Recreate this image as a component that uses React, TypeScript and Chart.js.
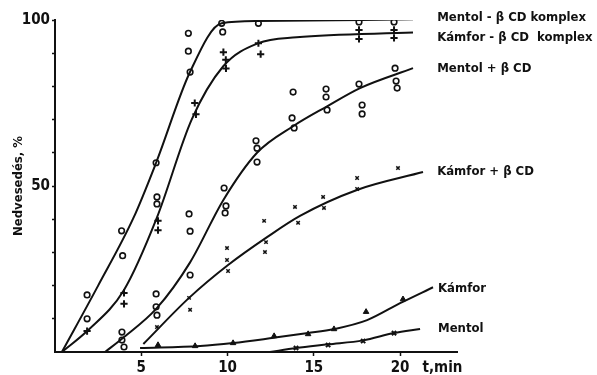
import React, { useEffect, useRef } from 'react';
import { Chart, registerables } from 'chart.js';

Chart.register(...registerables);

const FONT = "'DejaVu Sans Condensed', 'Liberation Sans Narrow', 'DejaVu Sans', sans-serif";
const INK = '#111111';

// ---- axis ----
const xMin = 0;
const xMax = 23.3;
const yMin = 0;
const yMax = 100;
const xTickValues = [5, 10, 15, 20];
const yTickValues = [10, 20, 30, 40, 50, 60, 70, 80, 90, 100];
const yLabelledTicks = [50, 100];
const yTitle = 'Nedvesedés, %';
const xUnit = 't,min';

// ---- series names ----
const seriesNames = [
  'Mentol - β CD komplex',
  'Kámfor - β CD  komplex',
  'Mentol + β CD',
  'Kámfor + β CD',
  'Kámfor',
  'Mentol',
];
const labelX = [22.15, 22.15, 22.15, 22.15, 22.2, 22.2];
const labelY = [100.6, 94.7, 85.5, 54.2, 19.1, 7.1];

// ---- fitted curves ----
const curve1X = [0.4, 2.5, 4.54, 5.86, 7.83, 9.66, 11.77, 20.75];
const curve1Y = [0, 20, 40.3, 57, 84.4, 99, 99.7, 100.2];
const curve2X = [0.4, 1.86, 4.0, 5.9, 7.92, 9.74, 11.77, 14.0, 20.75];
const curve2Y = [0, 6.3, 18.7, 40.4, 70, 86, 93, 94.8, 96.2];
const curve3X = [2.9, 3.88, 5.9, 7.83, 9.76, 11.71, 13.8, 15.77, 17.68, 20.75];
const curve3Y = [0, 4, 13.2, 27, 45.8, 60, 68, 74, 79.5, 85.5];
const curve4X = [5.12, 7.77, 10.03, 12.29, 14.2, 17.5, 21.33];
const curve4Y = [2.4, 16.3, 26.2, 34.6, 41, 48.8, 54.2];
const curve5X = [4.93, 8.41, 10.32, 12.7, 14.67, 16.17, 18.09, 20.0, 21.91];
const curve5Y = [1.2, 1.8, 2.7, 4.3, 5.7, 6.9, 9.6, 14.7, 19.5];
const curve6X = [12.46, 13.97, 15.83, 17.86, 19.65, 21.16];
const curve6Y = [0, 1.2, 2.3, 3.5, 5.7, 6.9];

// ---- measured points ----
const mentolKomplexX = [1.86, 1.86, 3.86, 3.92, 5.86, 5.91, 5.91, 7.73, 7.73, 7.83, 9.66, 9.72, 11.79, 17.62, 19.65];
const mentolKomplexY = [17.2, 10, 36.5, 29, 57, 46.7, 44.6, 96, 90.6, 84.3, 99, 96.4, 99, 99.4, 99.4];
const kamforKomplexX = [1.86, 4.0, 4.0, 5.97, 5.97, 8.1, 8.17, 9.76, 9.9, 9.91, 11.79, 11.92, 17.62, 17.62, 19.65, 19.65];
const kamforKomplexY = [6.3, 17.8, 14.5, 39.5, 36.7, 75, 71.6, 90.3, 88, 85.4, 93, 89.7, 97, 94.3, 97, 94.6];
const mentolBcdX = [3.88, 3.88, 4.0, 5.86, 5.86, 5.91, 7.77, 7.83, 7.83, 9.8, 9.91, 9.86, 11.65, 11.71, 11.71, 13.8, 13.74, 13.86, 15.71, 15.71, 15.77, 17.62, 17.8, 17.8, 19.71, 19.77, 19.83];
const mentolBcdY = [6, 3.6, 1.5, 17.5, 13.6, 11.1, 41.6, 36.4, 23.2, 49.4, 44, 41.9, 63.6, 61.4, 57.2, 78.3, 70.5, 67.5, 79.2, 76.8, 72.9, 80.7, 74.4, 71.7, 85.5, 81.6, 79.5];
const kamforBcdX = [5.91, 7.77, 7.83, 9.97, 9.97, 10.03, 12.12, 12.23, 12.17, 13.91, 14.09, 15.54, 15.59, 17.51, 17.51, 19.88];
const kamforBcdY = [7.5, 16.3, 12.7, 31.3, 27.7, 24.4, 39.5, 33.1, 30.1, 43.7, 38.9, 46.7, 43.4, 52.4, 49.1, 55.4];
const kamforX = [5.97, 8.12, 10.32, 12.7, 14.67, 16.17, 18.03, 20.17];
const kamforY = [2.1, 1.8, 2.7, 4.8, 5.4, 6.9, 12.1, 15.9];
const mentolX = [13.97, 15.83, 17.86, 19.65];
const mentolY = [1.2, 2.1, 3.3, 5.7];

const zip = (xs: number[], ys: number[]) => xs.map((x, i) => ({ x, y: ys[i] }));

const curveDs = (xs: number[], ys: number[]) => ({
  data: zip(xs, ys),
  showLine: true,
  borderColor: INK,
  borderWidth: 2,
  pointRadius: 0,
  pointHoverRadius: 0,
  cubicInterpolationMode: 'monotone' as const,
  fill: false,
});

const annotPlugin = {
  id: 'annot',
  afterDraw(chart: any) {
    const { ctx, scales } = chart;
    const xs = scales.x;
    const ys = scales.y;
    ctx.save();
    ctx.fillStyle = INK;
    ctx.textBaseline = 'middle';
    ctx.textAlign = 'left';
    ctx.font = `bold 13px ${FONT}`;
    seriesNames.forEach((t, i) => {
      ctx.fillText(t, xs.getPixelForValue(labelX[i]), ys.getPixelForValue(labelY[i]));
    });
    ctx.font = `bold 15px ${FONT}`;
    ctx.fillText(xUnit, xs.getPixelForValue(21.3), ys.bottom + 16);
    ctx.restore();
  },
};

export default function App() {
  const ref = useRef<HTMLCanvasElement | null>(null);
  useEffect(() => {
    document.body.style.margin = '0';
    const canvas = ref.current;
    if (!canvas) return;
    const chart = new Chart(canvas, {
      type: 'scatter',
      data: {
        datasets: [
          curveDs(curve1X, curve1Y),
          curveDs(curve2X, curve2Y),
          curveDs(curve3X, curve3Y),
          curveDs(curve4X, curve4Y),
          curveDs(curve5X, curve5Y),
          curveDs(curve6X, curve6Y),
          {
            data: zip(mentolKomplexX, mentolKomplexY),
            pointStyle: 'circle',
            pointRadius: 2.8,
            pointBorderWidth: 1.6,
            borderColor: INK,
            backgroundColor: 'rgba(255,255,255,0)',
          },
          {
            data: zip(kamforKomplexX, kamforKomplexY),
            pointStyle: 'cross',
            pointRadius: 3.6,
            pointBorderWidth: 2,
            borderColor: INK,
            backgroundColor: INK,
          },
          {
            data: zip(mentolBcdX, mentolBcdY),
            pointStyle: 'circle',
            pointRadius: 2.8,
            pointBorderWidth: 1.6,
            borderColor: INK,
            backgroundColor: 'rgba(255,255,255,0)',
          },
          {
            data: zip(kamforBcdX, kamforBcdY),
            pointStyle: 'crossRot',
            pointRadius: 2.4,
            pointBorderWidth: 1.5,
            borderColor: INK,
            backgroundColor: INK,
          },
          {
            data: zip(kamforX, kamforY),
            pointStyle: 'triangle',
            pointRadius: 3.2,
            pointBorderWidth: 1,
            borderColor: INK,
            backgroundColor: INK,
          },
          {
            data: zip(mentolX, mentolY),
            pointStyle: 'crossRot',
            pointRadius: 3,
            pointBorderWidth: 2,
            borderColor: INK,
            backgroundColor: INK,
          },
        ],
      },
      options: {
        animation: false,
        responsive: false,
        maintainAspectRatio: false,
        events: [],
        layout: { padding: { top: 20, right: 140, left: 0, bottom: 0 } },
        plugins: {
          legend: { display: false },
          tooltip: { enabled: false },
        },
        scales: {
          x: {
            type: 'linear',
            min: xMin,
            max: xMax,
            afterFit: (s: any) => { s.height = 23; },
            afterBuildTicks: (s: any) => { s.ticks = xTickValues.map((v) => ({ value: v })); },
            grid: { display: true, drawOnChartArea: false, drawTicks: true, tickLength: 4, tickColor: INK, tickWidth: 1.5 },
            border: { display: true, color: INK, width: 2 },
            ticks: {
              color: INK,
              padding: 3,
              maxRotation: 0,
              autoSkip: false,
              font: { family: FONT, size: 15, weight: 'bold' },
              callback: (v: any) => String(v),
            },
          },
          y: {
            type: 'linear',
            min: yMin,
            max: yMax,
            afterFit: (s: any) => { s.width = 55; },
            afterBuildTicks: (s: any) => { s.ticks = yTickValues.map((v) => ({ value: v })); },
            grid: { display: true, drawOnChartArea: false, drawTicks: true, tickLength: 3, tickColor: INK, tickWidth: 1.5 },
            border: { display: true, color: INK, width: 2 },
            ticks: {
              color: INK,
              padding: 2,
              autoSkip: false,
              font: { family: FONT, size: 15, weight: 'bold' },
              callback: (v: any) => (yLabelledTicks.includes(Number(v)) ? String(v) : ''),
            },
            title: {
              display: true,
              text: yTitle,
              color: INK,
              font: { family: FONT, size: 13, weight: 'bold' },
              padding: { top: 11, bottom: 0 },
            },
          },
        },
      },
      plugins: [annotPlugin],
    });
    return () => chart.destroy();
  }, []);
  return (
    <div style={{ width: 597, height: 375, position: 'relative' }}>
      <canvas ref={ref} width={597} height={375} style={{ display: 'block', width: 597, height: 375 }} />
    </div>
  );
}
